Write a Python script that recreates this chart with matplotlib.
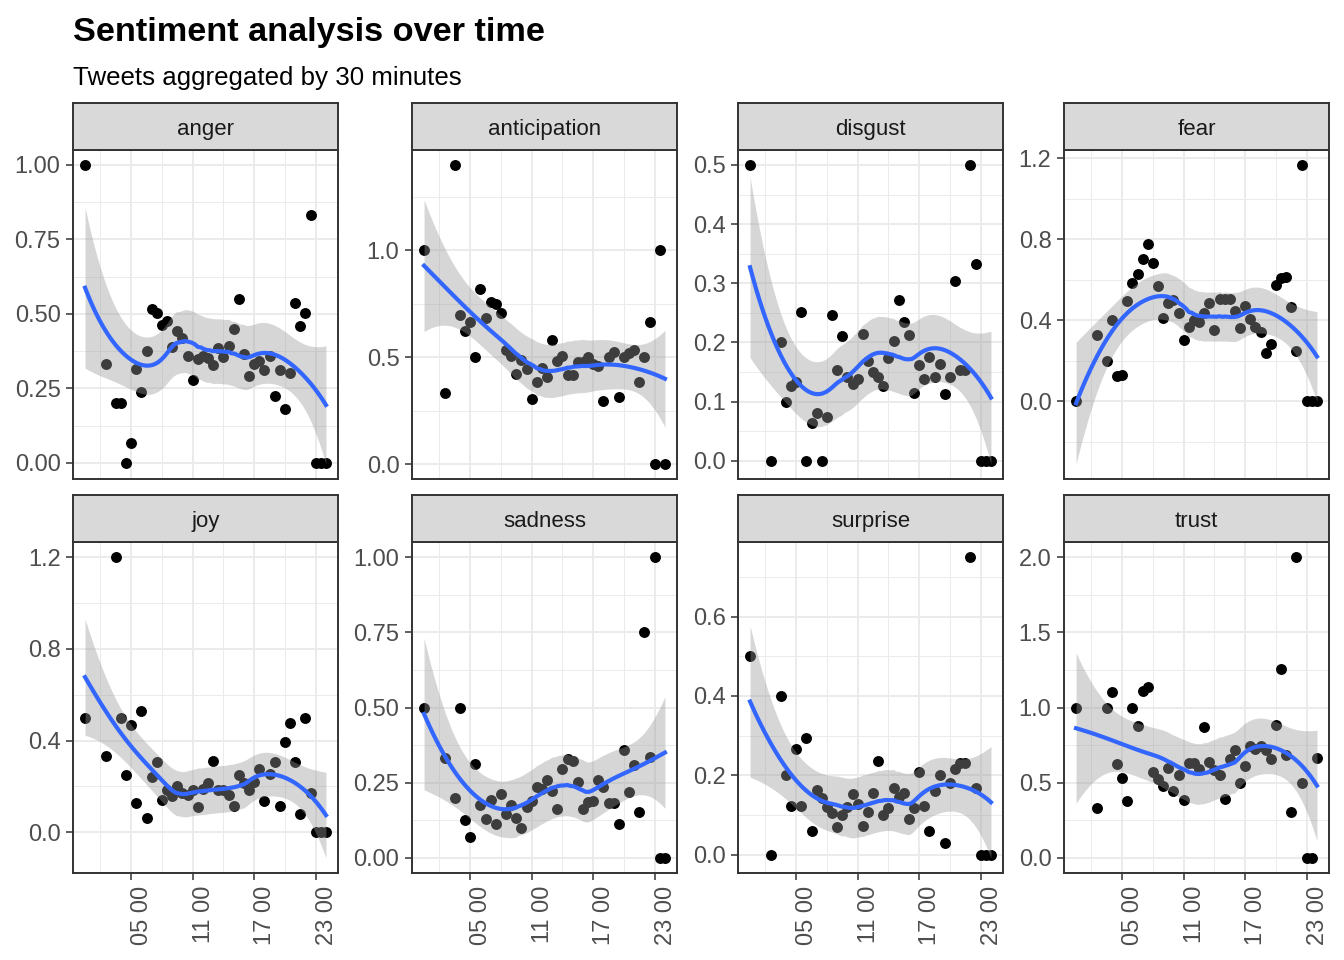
import numpy as np
import matplotlib
matplotlib.use("Agg")
import matplotlib.pyplot as plt

plt.rcParams["font.family"] = ["Liberation Sans", "DejaVu Sans"]

# time of day (hours) of each 30 minute bucket
hours = [0.5, 2.5, 3.5, 4.0, 4.5, 5.0, 5.5, 6.0, 6.5, 7.0, 7.5, 8.0, 8.5, 9.0,
         9.5, 10.0, 10.5, 11.0, 11.5, 12.0, 12.5, 13.0, 13.5, 14.0, 14.5, 15.0,
         15.5, 16.0, 16.5, 17.0, 17.5, 18.0, 18.5, 19.0, 19.5, 20.0, 20.5, 21.0,
         21.5, 22.0, 22.5, 23.0, 23.5, 24.0]

anger = [1.0, 0.333, 0.2, 0.2, 0.0, 0.067, 0.315, 0.237, 0.374, 0.517, 0.503,
         0.463, 0.475, 0.389, 0.442, 0.418, 0.36, 0.279, 0.349, 0.36, 0.352,
         0.327, 0.385, 0.354, 0.393, 0.449, 0.551, 0.366, 0.29, 0.33, 0.341,
         0.313, 0.358, 0.223, 0.313, 0.179, 0.302, 0.537, 0.46, 0.502, 0.833,
         0.0, 0.0, 0.0]
anticipation = [1.0, 0.333, 1.4, 0.7, 0.625, 0.667, 0.5, 0.82, 0.683, 0.757,
                0.747, 0.707, 0.535, 0.504, 0.423, 0.485, 0.445, 0.306, 0.385,
                0.449, 0.407, 0.582, 0.484, 0.504, 0.415, 0.418, 0.477, 0.48,
                0.5, 0.47, 0.457, 0.293, 0.5, 0.524, 0.314, 0.5, 0.52, 0.535,
                0.382, 0.5, 0.667, 0.0, 1.0, 0.0]
disgust = [0.5, 0.0, 0.2, 0.1, 0.126, 0.133, 0.251, 0.0, 0.063, 0.081, 0.0,
           0.074, 0.246, 0.153, 0.211, 0.142, 0.129, 0.138, 0.215, 0.169, 0.15,
           0.142, 0.126, 0.173, 0.202, 0.272, 0.235, 0.212, 0.115, 0.162, 0.138,
           0.176, 0.142, 0.163, 0.113, 0.142, 0.304, 0.154, 0.154, 0.5, 0.333,
           0.0, 0.0, 0.0]
fear = [0.0, 0.329, 0.198, 0.399, 0.124, 0.132, 0.497, 0.585, 0.626, 0.701,
        0.775, 0.682, 0.571, 0.41, 0.484, 0.5, 0.438, 0.304, 0.365, 0.399,
        0.389, 0.438, 0.484, 0.35, 0.505, 0.505, 0.505, 0.448, 0.361, 0.468,
        0.407, 0.369, 0.34, 0.239, 0.284, 0.572, 0.607, 0.615, 0.463, 0.25,
        1.167, 0.0, 0.0, 0.0]
joy = [0.5, 0.333, 1.2, 0.5, 0.25, 0.466, 0.127, 0.527, 0.061, 0.24, 0.306,
       0.143, 0.186, 0.16, 0.204, 0.17, 0.163, 0.185, 0.109, 0.189, 0.216,
       0.313, 0.185, 0.185, 0.165, 0.117, 0.248, 0.216, 0.185, 0.221, 0.277,
       0.137, 0.255, 0.306, 0.114, 0.393, 0.476, 0.306, 0.079, 0.5, 0.17,
       0.0, 0.0, 0.0]
sadness = [0.5, 0.333, 0.2, 0.5, 0.127, 0.068, 0.313, 0.175, 0.129, 0.192,
           0.112, 0.211, 0.145, 0.175, 0.133, 0.1, 0.17, 0.188, 0.235, 0.228,
           0.26, 0.222, 0.164, 0.297, 0.33, 0.321, 0.253, 0.164, 0.186, 0.188,
           0.26, 0.235, 0.181, 0.184, 0.114, 0.358, 0.22, 0.31, 0.153, 0.75,
           0.336, 1.0, 0.0, 0.0]
surprise = [0.5, 0.0, 0.4, 0.2, 0.124, 0.266, 0.124, 0.295, 0.061, 0.164,
            0.143, 0.12, 0.105, 0.069, 0.101, 0.12, 0.154, 0.128, 0.073, 0.109,
            0.155, 0.236, 0.101, 0.117, 0.168, 0.145, 0.155, 0.09, 0.117, 0.208,
            0.122, 0.059, 0.16, 0.202, 0.029, 0.181, 0.217, 0.23, 0.23, 0.75,
            0.168, 0.0, 0.0, 0.0]
trust = [1.0, 0.333, 1.0, 1.104, 0.627, 0.532, 0.379, 1.0, 0.876, 1.109, 1.135,
         0.572, 0.528, 0.477, 0.599, 0.446, 0.55, 0.384, 0.632, 0.632, 0.594,
         0.871, 0.639, 0.583, 0.55, 0.395, 0.661, 0.716, 0.501, 0.612, 0.745,
         0.723, 0.745, 0.716, 0.656, 0.887, 1.259, 0.687, 0.306, 2.0, 0.5,
         0.0, 0.0, 0.667]

sentiments = ["anger", "anticipation", "disgust", "fear",
              "joy", "sadness", "surprise", "trust"]
values = [anger, anticipation, disgust, fear, joy, sadness, surprise, trust]

y_breaks = [
    [0.0, 0.25, 0.5, 0.75, 1.0],
    [0.0, 0.5, 1.0],
    [0.0, 0.1, 0.2, 0.3, 0.4, 0.5],
    [0.0, 0.4, 0.8, 1.2],
    [0.0, 0.4, 0.8, 1.2],
    [0.0, 0.25, 0.5, 0.75, 1.0],
    [0.0, 0.2, 0.4, 0.6],
    [0.0, 0.5, 1.0, 1.5, 2.0],
]
y_labels = [
    ["0.00", "0.25", "0.50", "0.75", "1.00"],
    ["0.0", "0.5", "1.0"],
    ["0.0", "0.1", "0.2", "0.3", "0.4", "0.5"],
    ["0.0", "0.4", "0.8", "1.2"],
    ["0.0", "0.4", "0.8", "1.2"],
    ["0.00", "0.25", "0.50", "0.75", "1.00"],
    ["0.0", "0.2", "0.4", "0.6"],
    ["0.0", "0.5", "1.0", "1.5", "2.0"],
]
x_breaks = [5, 11, 17, 23]
x_minor = [2, 8, 14, 20]
x_labels = ["05 00", "11 00", "17 00", "23 00"]


def loess(x, y, xs, span=0.75):
    # local quadratic fit with tricube weights, like R's loess()
    n = len(x)
    q = int(np.floor(n * span))

    def rows(pts):
        out = []
        for x0 in pts:
            d = np.abs(x - x0)
            h = np.sort(d)[q - 1]
            w = np.clip(1 - (d / h) ** 3, 0, None) ** 3
            X = np.column_stack([np.ones(n), x - x0, (x - x0) ** 2])
            XtW = X.T * w
            out.append(np.linalg.solve(XtW @ X, XtW)[0])
        return np.array(out)

    L = rows(x)
    R = np.eye(n) - L
    M = R.T @ R
    d1 = np.trace(M)
    d2 = np.trace(M @ M)
    s = np.sqrt(np.sum((R @ y) ** 2) / d1)
    df = d1 ** 2 / d2
    Ls = rows(xs)
    fit = Ls @ y
    se = s * np.sqrt(np.sum(Ls ** 2, axis=1))
    z = 1.959964
    t = z + (z ** 3 + z) / (4 * df) + (5 * z ** 5 + 16 * z ** 3 + 3 * z) / (96 * df ** 2)
    return fit, fit - t * se, fit + t * se


W, H = 1344, 960
fig = plt.figure(figsize=(W / 100, H / 100), dpi=100)

cols = [(73, 338), (412, 677), (738, 1003), (1064, 1329)]
rows_px = [(103, 150, 479), (495, 542, 873)]

x = np.array(hours)
xs = np.linspace(x.min(), x.max(), 80)
xpad = 0.05 * (x.max() - x.min())

for i, name in enumerate(sentiments):
    r, c = divmod(i, 4)
    x0, x1 = cols[c]
    s0, p0, p1 = rows_px[r]
    y = np.array(values[i])
    fit, lo, hi = loess(x, y, xs)

    ax = fig.add_axes([x0 / W, 1 - p1 / H, (x1 - x0) / W, (p1 - p0) / H])
    ax.scatter(x, y, s=62, color="black", linewidths=0, zorder=2)
    ax.fill_between(xs, lo, hi, color="#999999", alpha=0.4, linewidth=0, zorder=3)
    ax.plot(xs, fit, color="#3366FF", lw=3.0, zorder=4)

    yb = y_breaks[i]
    step = yb[1] - yb[0]
    ax.set_yticks(yb)
    ax.set_yticklabels(y_labels[i])
    ax.set_yticks(np.arange(yb[0] - step / 2, yb[-1] + step, step), minor=True)
    ax.set_xticks(x_breaks)
    ax.set_xticks(x_minor, minor=True)

    # limits after the ticks, so the minor ticks do not widen them
    ymin = min(y.min(), lo.min())
    ymax = max(y.max(), hi.max())
    ypad = 0.05 * (ymax - ymin)
    ax.set_ylim(ymin - ypad, ymax + ypad)
    ax.set_xlim(x.min() - xpad, x.max() + xpad)

    ax.grid(which="major", color="#EBEBEB", lw=1.4, zorder=0)
    ax.grid(which="minor", color="#EBEBEB", lw=0.7, zorder=0)
    ax.set_axisbelow(True)

    ax.tick_params(axis="y", which="major", length=5, width=1.1, color="#333333",
                   labelsize=17, labelcolor="#4D4D4D", pad=4)
    ax.tick_params(which="minor", length=0)
    if r == 1:
        ax.set_xticklabels(x_labels, rotation=90, ha="left")
        ax.tick_params(axis="x", which="major", length=5, width=1.1,
                       color="#333333", labelsize=17, labelcolor="#4D4D4D", pad=4)
    else:
        ax.tick_params(axis="x", which="major", length=0, labelbottom=False)
    for sp in ax.spines.values():
        sp.set_color("#333333")
        sp.set_linewidth(1.4)

    sx = fig.add_axes([x0 / W, 1 - p0 / H, (x1 - x0) / W, (p0 - s0) / H])
    sx.set_facecolor("#D9D9D9")
    sx.set_xticks([])
    sx.set_yticks([])
    for sp in sx.spines.values():
        sp.set_color("#333333")
        sp.set_linewidth(1.4)
    sx.text(0.5, 0.32, name, ha="center", va="baseline", fontsize=16,
            color="#1A1A1A", transform=sx.transAxes)

fig.text(73 / W, 1 - 41 / H, "Sentiment analysis over time", fontsize=24.7,
         fontweight="bold", ha="left", va="baseline")
fig.text(73 / W, 1 - 85 / H, "Tweets aggregated by 30 minutes", fontsize=18.6,
         ha="left", va="baseline")

fig.savefig("out.png", dpi=100, facecolor="white")
